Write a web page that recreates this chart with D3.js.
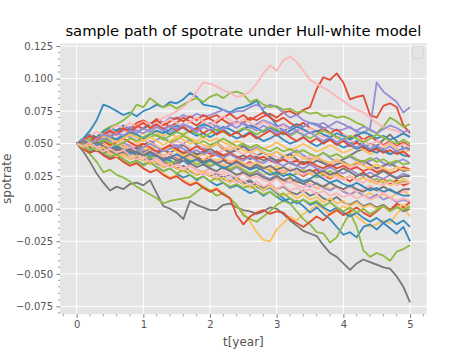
<!DOCTYPE html>
<html><head><meta charset="utf-8">
<script src="https://cdn.jsdelivr.net/npm/d3@7"></script>
<style>body{margin:0;background:#fff}svg{display:block}text{font-family:"DejaVu Sans",sans-serif}</style>
</head><body><svg id="c" width="474" height="355"></svg>
<script>
// time grid (years) 0..5 step 0.1
const times = d3.range(51).map(i => i / 10);
// spot-rate paths, values in per-mille (1 = 0.001)
const path00 = [50,52,49,55,58,56,60,63,61,66,68,65,69,66,63,66,70,67,64,68,70,72,68,65,67,66,70,68,71,73,70,74,75,72,76,78,92,101,99,104,97,84,86,87,72,70,79,81,78,64,58];
const path01 = [50,54,60,68,80,78,75,72,74,71,75,77,80,78,82,81,84,89,86,80,79,78,76,74,77,78,80,83,75,71,64,60,62,65,63,66,65,62,58,55,53,50,52,48,45,47,44,42,44,46,48];
const path02 = [50,53,51,55,57,55,58,61,60,63,62,65,68,66,70,69,72,70,73,71,72,74,76,73,75,75,78,80,77,80,78,74,70,72,68,66,64,66,62,60,61,63,59,58,62,97,90,86,82,74,78];
const path03 = [50,44,36,27,20,14,17,15,19,20,18,22,12,2,0,-3,-8,6,3,1,-1,-1,3,4,1,-1,-2,-4,-2,1,0,-4,-9,-13,-17,-19,-21,-28,-34,-37,-42,-47,-42,-39,-41,-43,-45,-46,-52,-60,-72];
const path04 = [50,47,44,46,42,38,40,36,33,35,31,28,30,27,24,26,22,19,21,17,14,16,12,8,2,-3,-10,-18,-24,-25,-16,-11,-6,-9,-4,-1,3,0,-5,-2,2,-1,-6,-10,-14,-12,-9,-11,-4,1,-6];
const path05 = [50,53,56,55,60,63,65,68,72,80,78,85,81,78,80,77,80,83,85,82,86,88,85,89,90,88,82,84,80,78,79,76,77,74,75,73,74,71,72,70,71,69,66,64,60,58,63,70,67,63,65];
const path06 = [50,52,55,53,57,58,56,60,62,61,65,63,67,70,72,75,78,83,90,97,96,94,91,89,86,87,90,96,104,110,106,114,117,113,106,99,96,93,90,86,83,79,76,74,70,66,63,61,60,57,56];
const path07 = [50,47,49,45,48,44,46,42,45,47,44,41,43,46,42,39,41,44,40,37,40,42,38,35,37,33,36,32,30,33,29,27,31,28,25,28,30,26,23,27,24,21,25,28,24,20,23,19,22,18,20];
const path08 = [50,53,51,48,50,46,49,45,43,46,42,40,43,39,37,34,37,33,30,28,31,27,24,26,22,19,21,17,14,16,12,8,4,6,2,-3,1,-4,-8,-14,-20,-18,-22,-14,-12,-16,-11,-15,-19,-14,-25];
const path09 = [50,52,55,53,56,52,54,57,55,52,54,50,53,55,51,48,50,53,49,46,48,51,47,44,46,49,45,47,43,41,44,40,42,45,41,38,40,43,39,36,38,40,37,34,37,39,35,33,36,38,35];
const path10 = [50,48,51,54,50,47,45,48,44,46,49,52,48,45,43,46,49,45,42,44,47,50,46,43,45,48,44,41,43,40,37,40,42,38,35,37,40,36,33,35,38,41,44,46,50,48,53,57,52,47,46];
const path11 = [50,52,49,46,48,51,47,44,46,43,45,48,44,41,43,40,42,39,36,38,35,37,34,31,33,30,27,29,26,28,24,21,23,20,22,19,16,18,15,17,14,11,13,10,12,9,11,8,12,14,10];
const path12 = [50,46,42,36,28,30,26,24,21,17,14,11,8,4,6,7,8,9,13,17,14,10,12,8,3,-5,-8,-10,-6,-2,3,6,4,-2,-8,-12,-18,-19,-26,-22,-12,-3,-14,-32,-37,-34,-36,-40,-33,-31,-28];
const path13 = [50,48,52,55,53,50,52,49,47,50,53,51,48,46,49,52,50,47,45,48,46,43,45,48,45,42,44,41,39,42,40,37,39,36,38,41,38,35,33,36,34,31,33,36,33,30,32,35,32,29,30];
const path14 = [50,53,50,54,57,55,59,62,60,64,61,65,68,64,67,70,67,71,68,72,69,66,70,73,69,72,68,71,74,70,67,70,66,63,66,62,59,62,58,61,57,54,57,53,56,52,49,52,48,51,48];
const path15 = [50,47,44,46,42,39,41,38,35,37,34,36,32,29,31,27,24,26,22,25,21,18,20,16,18,15,12,14,10,13,9,6,8,4,7,3,5,1,-2,1,-3,-6,-3,-7,-10,-7,-11,-8,-12,-9,-14];
const path16 = [50,51,48,50,46,48,45,47,44,42,45,41,43,40,38,41,37,35,38,34,32,35,31,29,32,28,26,29,25,23,26,22,20,23,19,17,20,16,14,17,13,11,14,10,8,11,7,9,5,7,5];
const path17 = [50,52,48,45,47,43,40,42,38,40,37,39,35,32,34,31,33,29,26,28,25,27,23,21,24,20,22,18,16,19,15,17,13,11,14,10,12,8,6,9,5,3,6,2,4,1,3,-1,2,-2,0];
const path18 = [50,53,56,54,57,60,58,61,57,55,58,61,59,56,58,55,57,54,52,55,52,54,51,49,52,50,47,49,46,48,51,48,45,47,50,47,44,46,49,46,43,45,48,45,42,44,47,50,46,43,45];
const path19 = [50,48,45,47,44,46,43,40,42,45,42,39,41,38,35,37,40,37,34,36,33,35,32,30,33,30,27,29,32,29,26,28,25,27,30,27,24,26,29,26,23,25,22,24,21,23,20,22,19,21,20];
const path20 = [50,47,45,48,44,41,43,40,38,41,37,35,38,34,32,35,31,33,30,28,31,27,29,26,24,27,23,25,22,20,23,19,21,18,16,19,15,17,20,16,14,17,13,15,18,14,12,15,11,13,15];
const path21 = [50,46,43,45,41,38,40,36,33,35,31,28,30,26,23,25,21,18,20,16,13,15,11,8,-5,-12,-6,-3,-1,-4,-2,-3,-8,-11,-14,-10,-6,-9,-4,-1,-5,-2,1,-3,-6,-2,2,-1,4,1,5];
const path22 = [50,54,57,55,59,62,60,64,61,58,62,65,63,60,57,60,63,59,56,58,55,58,61,57,54,56,59,55,52,54,57,53,50,52,55,51,48,51,54,50,47,49,46,48,45,43,46,42,44,41,40];
const path23 = [50,52,55,52,56,59,57,60,63,60,58,61,64,62,59,62,65,63,60,63,66,63,61,64,67,65,62,65,68,66,63,65,62,60,63,66,64,61,64,67,65,62,60,63,61,58,61,64,62,59,60];
const path24 = [50,51,47,44,46,43,45,48,44,41,43,46,42,45,48,45,42,44,41,43,46,43,40,42,39,41,38,40,37,39,36,38,35,33,36,34,37,35,32,34,36,33,35,37,34,31,33,35,32,29,30];
const path25 = [50,53,51,54,51,48,50,47,49,52,49,46,48,45,47,44,41,43,40,42,39,37,40,36,38,35,33,36,32,30,33,29,31,28,30,27,25,28,24,26,23,25,22,24,21,19,22,18,20,23,20];
const path26 = [50,52,54,51,53,56,53,55,58,55,52,55,57,54,51,53,56,53,50,52,49,51,54,51,48,50,47,49,46,44,47,44,46,43,45,42,40,43,40,42,39,41,38,36,39,36,38,35,37,34,35];
const path27 = [50,53,56,59,57,61,64,62,66,63,67,65,62,66,69,66,63,67,70,67,64,68,71,68,65,69,66,63,67,64,61,64,60,63,59,62,58,55,58,54,57,53,50,53,49,52,48,51,47,50,47];
const path28 = [50,49,52,55,52,49,51,54,51,48,50,47,44,46,49,46,43,45,48,45,42,44,41,43,40,38,41,38,40,37,35,38,35,37,34,36,33,31,34,31,33,30,32,29,31,28,30,27,29,32,30];
const path29 = [50,48,51,49,52,55,53,56,59,57,54,57,60,58,61,64,62,59,62,65,63,60,63,61,58,61,64,62,59,62,60,57,60,63,61,58,60,57,55,58,56,53,56,59,57,54,56,53,55,58,55];
const path30 = [50,52,49,51,54,51,48,51,48,45,47,50,47,44,46,49,46,43,45,42,44,41,39,42,39,37,40,37,35,38,35,33,36,33,31,34,31,29,32,29,27,30,27,25,28,25,23,26,24,27,25];
const path31 = [50,47,49,46,43,45,42,44,41,38,40,37,39,36,33,35,38,35,32,34,31,29,32,29,26,28,25,27,24,22,25,22,24,21,19,22,19,17,20,17,15,18,15,13,16,14,17,14,12,15,15];
const path32 = [50,53,50,53,56,54,51,54,57,55,52,55,52,49,52,55,53,50,52,49,47,50,47,45,48,45,43,46,43,41,44,41,39,42,39,37,40,37,35,38,35,33,36,33,31,34,31,29,32,30,30];
const path33 = [50,49,52,50,53,51,48,51,54,52,55,58,56,53,56,59,57,60,58,55,58,61,59,56,59,62,60,57,60,63,61,58,56,59,57,54,57,60,58,55,53,56,54,51,54,57,55,52,50,53,50];
const path34 = [50,52,50,47,49,46,48,45,47,44,42,45,42,40,43,40,38,41,38,36,39,36,34,37,34,32,35,32,30,33,30,28,31,28,26,29,26,24,27,24,22,25,22,20,23,20,18,21,18,20,20];
const path35 = [50,53,56,53,57,60,57,62,59,63,66,62,65,61,64,60,63,59,62,58,61,57,60,56,59,55,58,54,57,60,56,59,55,52,55,51,54,50,53,49,52,48,51,47,44,46,43,45,42,44,40];
const path36 = [50,48,50,47,44,46,48,45,42,44,41,43,40,37,39,42,39,36,38,35,37,34,31,33,36,33,30,32,29,26,28,25,27,24,21,23,26,23,20,22,19,17,20,17,14,16,13,15,12,10,10];
const path37 = [50,53,50,54,57,55,58,56,60,58,62,59,63,60,64,61,65,62,59,63,60,64,61,65,62,66,63,60,64,61,58,61,57,60,56,59,55,52,55,51,54,50,47,50,46,49,45,48,44,47,45];
const path38 = [50,52,49,51,48,45,47,44,46,43,41,44,41,38,40,37,39,42,39,36,38,35,37,34,36,33,31,34,31,33,30,32,29,31,28,30,27,29,26,28,31,28,25,27,24,26,29,26,23,25,25];
const path39 = [50,47,49,45,47,43,40,42,38,41,37,34,36,32,35,31,28,30,26,29,25,22,24,20,23,19,16,18,14,17,13,10,12,8,11,7,9,5,8,4,6,2,5,1,3,0,2,-2,1,3,0];
const path40 = [50,48,45,47,43,40,42,38,35,37,33,36,32,29,31,27,30,26,23,25,21,24,20,17,19,16,18,14,11,13,9,12,8,5,7,4,6,2,5,1,-2,1,-3,0,-4,-1,2,-2,1,-1,2];
const path41 = [50,48,51,47,44,46,43,45,41,38,40,36,39,35,32,34,30,33,29,26,28,24,27,23,20,22,18,21,17,19,15,18,14,16,13,15,11,14,10,12,9,11,8,10,7,9,12,9,6,8,6];
const paths = [path00,path01,path02,path03,path04,path05,path06,path07,path08,path09,path10,path11,path12,path13,path14,path15,path16,path17,path18,path19,path20,path21,path22,path23,path24,path25,path26,path27,path28,path29,path30,path31,path32,path33,path34,path35,path36,path37,path38,path39,path40,path41];
const xTicks = [0,1,2,3,4,5];
const yTicks = [-0.075,-0.05,-0.025,0,0.025,0.05,0.075,0.1,0.125];
const titleText = "sample path of spotrate under Hull-white model";
const xLabel = "t[year]";
const yLabel = "spotrate";
const palette = ["#E24A33","#348ABD","#988ED5","#777777","#FBC15E","#8EBA42","#FFB5B8"];

const svg = d3.select("#c");
const L = 60, R = 426.7, T = 43.3, B = 314.3;
const x = d3.scaleLinear().domain([-0.25, 5.25]).range([L, R]);
const y = d3.scaleLinear().domain([-0.0811, 0.1271]).range([B, T]);
const color = d3.scaleOrdinal().domain(d3.range(7)).range(palette);

svg.append("rect").attr("x", L).attr("y", T).attr("width", R - L).attr("height", B - T).attr("fill", "#E5E5E5");
svg.append("defs").append("clipPath").attr("id", "clip").append("rect")
  .attr("x", L).attr("y", T).attr("width", R - L).attr("height", B - T);

// grid
const grid = svg.append("g");
grid.selectAll(".gx").data(xTicks).join("line")
  .attr("x1", d => x(d)).attr("x2", d => x(d)).attr("y1", T).attr("y2", B)
  .attr("stroke", "#fff").attr("stroke-width", 1);
grid.selectAll(".gy").data(yTicks).join("line")
  .attr("x1", L).attr("x2", R).attr("y1", d => y(d)).attr("y2", d => y(d))
  .attr("stroke", "#fff").attr("stroke-width", 1);

// lines
const line = d3.line().x((d, i) => x(times[i])).y(d => y(d / 1000));
svg.append("g").attr("clip-path", "url(#clip)").selectAll("path").data(paths).join("path")
  .attr("d", line).attr("fill", "none")
  .attr("stroke", (d, i) => color(i % 7)).attr("stroke-width", 1.8)
  .attr("stroke-linejoin", "round");

// axes
const xAxis = d3.axisBottom(x).tickValues(xTicks).tickFormat(d3.format("d")).tickSize(3.5).tickPadding(3.5);
const gx = svg.append("g").attr("transform", `translate(0,${B})`).call(xAxis);
const yAxis = d3.axisLeft(y).tickValues(yTicks).tickFormat(d3.format(".3f")).tickSize(3.5).tickPadding(3.5);
const gy = svg.append("g").attr("transform", `translate(${L},0)`).call(yAxis);
[gx, gy].forEach(g => {
  g.select(".domain").remove();
  g.selectAll(".tick line").attr("stroke", "#555").attr("stroke-width", 0.8);
  g.selectAll(".tick text").attr("fill", "#555").style("font-size", "10px").style("font-family", "DejaVu Sans");
});
// minor ticks
const xMinor = d3.range(-2, 53, 2).map(v => v / 10).filter(v => Math.abs(v - Math.round(v)) > 1e-6);
svg.append("g").selectAll("line").data(xMinor).join("line")
  .attr("x1", d => x(d)).attr("x2", d => x(d)).attr("y1", B).attr("y2", B + 2)
  .attr("stroke", "#555").attr("stroke-width", 0.6);
const yMinor = d3.range(-16, 26).map(v => v * 0.005).filter(v => Math.abs(v / 0.025 - Math.round(v / 0.025)) > 1e-6);
svg.append("g").selectAll("line").data(yMinor).join("line")
  .attr("x1", L - 2).attr("x2", L).attr("y1", d => y(d)).attr("y2", d => y(d))
  .attr("stroke", "#555").attr("stroke-width", 0.6);

// empty legend frame
svg.append("rect").attr("x", 412.5).attr("y", 46.5).attr("width", 10.5).attr("height", 12)
  .attr("rx", 1.5).attr("fill", "#E5E5E5").attr("stroke", "#d0d0d0").attr("stroke-width", 0.8);

// title and labels
svg.append("text").attr("x", (L + R) / 2).attr("y", 36).attr("text-anchor", "middle")
  .style("font-size", "14.8px").attr("fill", "#000").text(titleText);
svg.append("text").attr("x", (L + R) / 2).attr("y", 346).attr("text-anchor", "middle")
  .style("font-size", "12px").attr("fill", "#555").text(xLabel);
svg.append("text").attr("transform", `translate(10.5,${(T + B) / 2}) rotate(-90)`).attr("text-anchor", "middle")
  .style("font-size", "12px").attr("fill", "#555").text(yLabel);
</script></body></html>
